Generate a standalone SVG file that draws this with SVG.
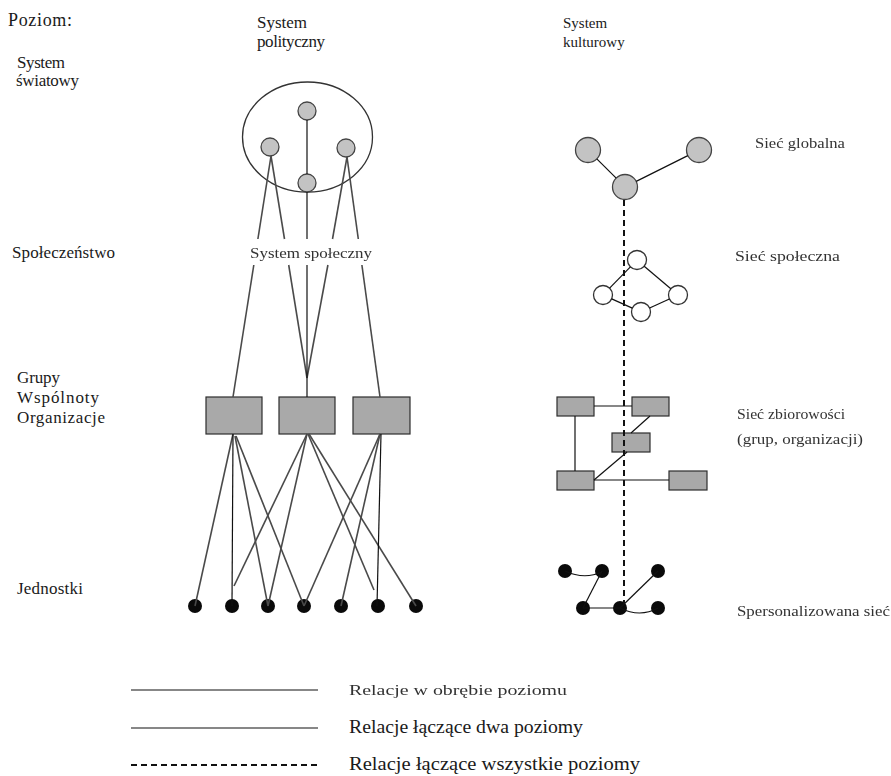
<svg xmlns="http://www.w3.org/2000/svg" width="891" height="776" viewBox="0 0 891 776">
  <defs>
    <style>
      .lbl { font-family: "Liberation Serif", "Times New Roman", serif; font-size: 17px; fill: #1a1a1a; }
      .big { font-size: 18px; }
      .small { font-size: 15px; }
      .key { font-size: 18px; }
      .soft { font-family: "Liberation Serif", "Times New Roman", serif; font-size: 15px; fill: #333; }
      .node-g { fill: #c3c3c3; stroke: #444; stroke-width: 1.3; }
      .node-w { fill: #fff; stroke: #333; stroke-width: 1.3; }
      .frame { fill: none; stroke: #333; stroke-width: 1.3; }
      .box { fill: #a9a9a9; stroke: #2e2e2e; stroke-width: 1.2; }
      .dot { fill: #0a0a0a; }
      .cross { stroke: #4a4a4a; stroke-width: 1.6; fill: none; }
      .link { stroke: #111; stroke-width: 1.2; fill: none; }
      .all { stroke: #111; stroke-width: 2; stroke-dasharray: 6 4; fill: none; }
    </style>
    <filter id="soft" x="-5%" y="-30%" width="110%" height="160%">
      <feGaussianBlur stdDeviation="0.55"/>
    </filter>
  </defs>

  <rect width="891" height="776" fill="#fff"/>

  <!-- level labels -->
  <g id="level-labels" class="lbl">
    <text class="lbl big" x="8" y="26" textLength="64">Poziom:</text>
    <text x="17" y="68" textLength="48">System</text>
    <text x="16" y="86" textLength="63">światowy</text>
    <text x="12" y="258" textLength="103">Społeczeństwo</text>
    <text x="17" y="383" textLength="43">Grupy</text>
    <text x="17" y="403" textLength="82">Wspólnoty</text>
    <text x="17" y="423" textLength="88">Organizacje</text>
    <text x="17" y="594" textLength="66">Jednostki</text>
  </g>

  <!-- column headers -->
  <g id="header-political" class="lbl">
    <text x="257" y="28" textLength="50">System</text>
    <text x="257" y="47" textLength="68">polityczny</text>
  </g>
  <g id="header-cultural">
    <text class="lbl small" x="563" y="28">System</text>
    <text class="lbl small" x="563" y="47">kulturowy</text>
  </g>

  <!-- network names, right column -->
  <g id="network-labels" filter="url(#soft)">
    <text class="soft" x="755" y="148" textLength="90" lengthAdjust="spacingAndGlyphs">Sieć globalna</text>
    <text class="soft" x="735" y="261" textLength="105" lengthAdjust="spacingAndGlyphs">Sieć społeczna</text>
    <text class="soft" x="737" y="419" textLength="108" lengthAdjust="spacingAndGlyphs">Sieć zbiorowości</text>
    <text class="soft" x="737" y="444" textLength="126" lengthAdjust="spacingAndGlyphs">(grup, organizacji)</text>
    <text class="soft" x="737" y="616" textLength="153" lengthAdjust="spacingAndGlyphs">Spersonalizowana sieć</text>
  </g>

  <!-- political system: world level -->
  <g id="world-system">
    <ellipse class="frame" cx="307.5" cy="137" rx="65" ry="55"/>
  </g>
  <g id="state-top"><circle class="node-g" cx="307" cy="111" r="9"/></g>
  <g id="state-left"><circle class="node-g" cx="270" cy="147" r="9"/></g>
  <g id="state-right"><circle class="node-g" cx="346" cy="148" r="9"/></g>
  <g id="state-bottom"><circle class="node-g" cx="307" cy="183" r="9"/></g>

  <!-- political system: society level -->
  <g id="social-system" filter="url(#soft)">
    <text class="soft" x="250" y="258" textLength="122" lengthAdjust="spacingAndGlyphs">System społeczny</text>
  </g>

  <!-- political system: groups -->
  <g id="group-1"><rect class="box" x="206" y="397" width="56" height="37"/></g>
  <g id="group-2"><rect class="box" x="279" y="397" width="56" height="37"/></g>
  <g id="group-3"><rect class="box" x="353" y="397" width="57" height="37"/></g>

  <!-- political system: individuals -->
  <g id="person-1"><circle class="dot" cx="195" cy="606" r="7"/></g>
  <g id="person-2"><circle class="dot" cx="232" cy="606" r="7"/></g>
  <g id="person-3"><circle class="dot" cx="268" cy="606" r="7"/></g>
  <g id="person-4"><circle class="dot" cx="304" cy="606" r="7"/></g>
  <g id="person-5"><circle class="dot" cx="341" cy="606" r="7"/></g>
  <g id="person-6"><circle class="dot" cx="378" cy="606" r="7"/></g>
  <g id="person-7"><circle class="dot" cx="416" cy="606" r="7"/></g>

  <!-- cultural system: global network -->
  <g id="global-1"><circle class="node-g" cx="588" cy="150" r="12.5"/></g>
  <g id="global-2"><circle class="node-g" cx="699" cy="150" r="12.5"/></g>
  <g id="global-3"><circle class="node-g" cx="625" cy="187" r="12.5"/></g>

  <!-- cultural system: social network -->
  <g id="social-1"><circle class="node-w" cx="637" cy="260" r="9.5"/></g>
  <g id="social-2"><circle class="node-w" cx="603" cy="295" r="9.5"/></g>
  <g id="social-3"><circle class="node-w" cx="678" cy="295" r="9.5"/></g>
  <g id="social-4"><circle class="node-w" cx="641" cy="312" r="9.5"/></g>

  <!-- cultural system: collectivities -->
  <g id="coll-a"><rect class="box" x="557" y="397" width="37" height="19"/></g>
  <g id="coll-b"><rect class="box" x="632" y="397" width="37" height="19"/></g>
  <g id="coll-c"><rect class="box" x="612" y="433" width="38" height="19"/></g>
  <g id="coll-d"><rect class="box" x="557" y="471" width="37" height="19"/></g>
  <g id="coll-e"><rect class="box" x="669" y="471" width="38" height="19"/></g>

  <!-- cultural system: personal network -->
  <g id="pers-1"><circle class="dot" cx="565" cy="571" r="7"/></g>
  <g id="pers-2"><circle class="dot" cx="602" cy="571" r="7"/></g>
  <g id="pers-3"><circle class="dot" cx="658" cy="571" r="7"/></g>
  <g id="pers-4"><circle class="dot" cx="583" cy="608" r="7"/></g>
  <g id="pers-5"><circle class="dot" cx="620" cy="608" r="7"/></g>
  <g id="pers-6"><circle class="dot" cx="658" cy="608" r="7"/></g>

  <!-- connectors -->
  <g id="connectors">
    <!-- within a level -->
    <line class="link" x1="307" y1="120" x2="307" y2="174"/>
    <line class="link" x1="596.8" y1="158.8" x2="616.2" y2="178.2"/>
    <line class="link" x1="636.2" y1="181.4" x2="687.8" y2="155.6"/>
    <line class="link" x1="630.4" y1="266.8" x2="609.6" y2="288.2"/>
    <line class="link" x1="644.2" y1="266.2" x2="670.8" y2="288.8"/>
    <line class="link" x1="611.7" y1="298.9" x2="632.3" y2="308.1"/>
    <line class="link" x1="669.4" y1="299" x2="649.6" y2="308"/>
    <line class="link" x1="594" y1="406" x2="632" y2="406"/>
    <line class="link" x1="575" y1="416" x2="575" y2="471"/>
    <line class="link" x1="650" y1="416" x2="631" y2="433"/>
    <line class="link" x1="627" y1="452" x2="594" y2="480"/>
    <line class="link" x1="594" y1="480" x2="669" y2="480"/>
    <path class="link" d="M565 571 Q584 580 602 572"/>
    <line class="link" x1="602" y1="571" x2="583" y2="608"/>
    <line class="link" x1="583" y1="608" x2="620" y2="608"/>
    <line class="link" x1="620" y1="608" x2="658" y2="571"/>
    <path class="link" d="M620 608 Q640 618 658 608"/>

    <!-- world level to groups, broken around the society label -->
    <line class="cross" x1="271" y1="156" x2="257.9" y2="239"/>
    <line class="cross" x1="253.8" y1="265" x2="233" y2="397"/>
    <line class="cross" x1="271" y1="156" x2="284.5" y2="239"/>
    <line class="cross" x1="288.7" y1="265" x2="307" y2="378"/>
    <line class="cross" x1="347" y1="157" x2="332.5" y2="239"/>
    <line class="cross" x1="327.9" y1="265" x2="307" y2="378"/>
    <line class="cross" x1="347" y1="157" x2="358.3" y2="239"/>
    <line class="cross" x1="361.9" y1="265" x2="380" y2="397"/>
    <line class="link" x1="307" y1="192" x2="307" y2="239"/>
    <line class="link" x1="307" y1="265" x2="307" y2="397"/>

    <!-- groups to individuals -->
    <line class="cross" x1="233" y1="434" x2="195" y2="606"/>
    <line class="link" x1="233" y1="434" x2="232" y2="606"/>
    <line class="cross" x1="235" y1="436" x2="268" y2="606"/>
    <line class="cross" x1="236" y1="436" x2="304" y2="606"/>
    <line class="cross" x1="307" y1="434" x2="234" y2="586"/>
    <line class="cross" x1="307" y1="434" x2="268" y2="606"/>
    <line class="cross" x1="308" y1="434" x2="374" y2="590"/>
    <line class="cross" x1="309" y1="434" x2="416" y2="606"/>
    <line class="cross" x1="380" y1="434" x2="304" y2="606"/>
    <line class="cross" x1="380" y1="434" x2="341" y2="606"/>
    <line class="link" x1="381" y1="434" x2="377" y2="606"/>

    <!-- across all levels -->
    <line class="all" x1="624" y1="200" x2="624" y2="604"/>
  </g>

  <!-- legend -->
  <g id="legend">
    <line class="link" x1="131" y1="690" x2="318" y2="690"/>
    <line class="link" x1="131" y1="728" x2="318" y2="728"/>
    <line class="all" x1="131" y1="765" x2="318" y2="765"/>
    <text class="soft" x="349" y="695" textLength="218" lengthAdjust="spacingAndGlyphs" filter="url(#soft)">Relacje w obrębie poziomu</text>
    <text class="lbl key" x="349" y="733" textLength="234" lengthAdjust="spacingAndGlyphs">Relacje łączące dwa poziomy</text>
    <text class="lbl key" x="349" y="770" textLength="291" lengthAdjust="spacingAndGlyphs">Relacje łączące wszystkie poziomy</text>
  </g>
</svg>
